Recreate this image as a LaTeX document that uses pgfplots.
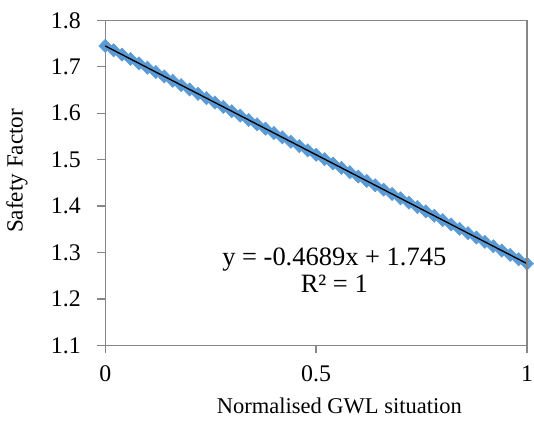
\documentclass[border=0pt]{standalone}
\usepackage{pgfplots}
\pgfplotsset{compat=1.18}
\usepackage{fontspec}
\setmainfont{Liberation Serif}
\definecolor{sfBlue}{HTML}{5B9BD5}
\definecolor{sfAxis}{HTML}{868686}

\begin{document}
\begin{tikzpicture}
\useasboundingbox (-79.5pt,-63pt) rectangle (324pt,261pt);
\begin{axis}[
  scale only axis,
  width=318.75pt,
  height=245.6pt,
  xmin=0, xmax=1,
  ymin=1.1, ymax=1.8,
  xtick={0,0.5,1},
  ytick={1.1,1.2,1.3,1.4,1.5,1.6,1.7,1.8},
  /pgf/number format/assume math mode=true,
  axis line style={sfAxis, line width=1pt},
  tick style={sfAxis, line width=1pt},
  tick align=outside,
  major tick length=6pt,
  xtick pos=bottom, ytick pos=left,
  tick label style={font=\fontsize{18}{20}\selectfont, black},
  yticklabel style={xshift=-9pt, /pgf/number format/.cd, fixed, fixed zerofill, precision=1},
  xticklabel style={yshift=-6pt},
  xlabel={Normalised GWL situation},
  ylabel={Safety Factor},
  xlabel style={font=\fontsize{17}{19}\selectfont, at={(axis description cs:0.555,-0.211)}, anchor=base},
  ylabel style={font=\fontsize{17.5}{20}\selectfont, at={(axis description cs:-0.209,0.537)}, anchor=center},
  clip=false,
  clip marker paths=true,
]
% data points
\addplot[only marks, mark=diamond*, mark size=5pt, mark options={fill=sfBlue, draw=sfBlue, xscale=1.3}] coordinates {
  (0.00,1.74500) (0.02,1.73562) (0.04,1.72624) (0.06,1.71687) (0.08,1.70749)
  (0.10,1.69811) (0.12,1.68873) (0.14,1.67935) (0.16,1.66998) (0.18,1.66060)
  (0.20,1.65122) (0.22,1.64184) (0.24,1.63246) (0.26,1.62309) (0.28,1.61371)
  (0.30,1.60433) (0.32,1.59495) (0.34,1.58557) (0.36,1.57620) (0.38,1.56682)
  (0.40,1.55744) (0.42,1.54806) (0.44,1.53868) (0.46,1.52931) (0.48,1.51993)
  (0.50,1.51055) (0.52,1.50117) (0.54,1.49179) (0.56,1.48242) (0.58,1.47304)
  (0.60,1.46366) (0.62,1.45428) (0.64,1.44490) (0.66,1.43553) (0.68,1.42615)
  (0.70,1.41677) (0.72,1.40739) (0.74,1.39801) (0.76,1.38864) (0.78,1.37926)
  (0.80,1.36988) (0.82,1.36050) (0.84,1.35112) (0.86,1.34175) (0.88,1.33237)
  (0.90,1.32299) (0.92,1.31361) (0.94,1.30423) (0.96,1.29486) (0.98,1.28548)
  (1.00,1.27610)
};
% linear trendline
\addplot[black, line width=1pt, mark=none] coordinates {(0,1.745) (1,1.2761)};
\node[align=center, font=\fontsize{20}{20}\selectfont] at (axis cs:0.543,1.262) {y = -0.4689x + 1.745\\R² = 1};
\end{axis}
\draw[sfAxis, line width=1pt] (0,245.6pt) -- (318.75pt,245.6pt) -- (318.75pt,0);
\end{tikzpicture}
\end{document}
